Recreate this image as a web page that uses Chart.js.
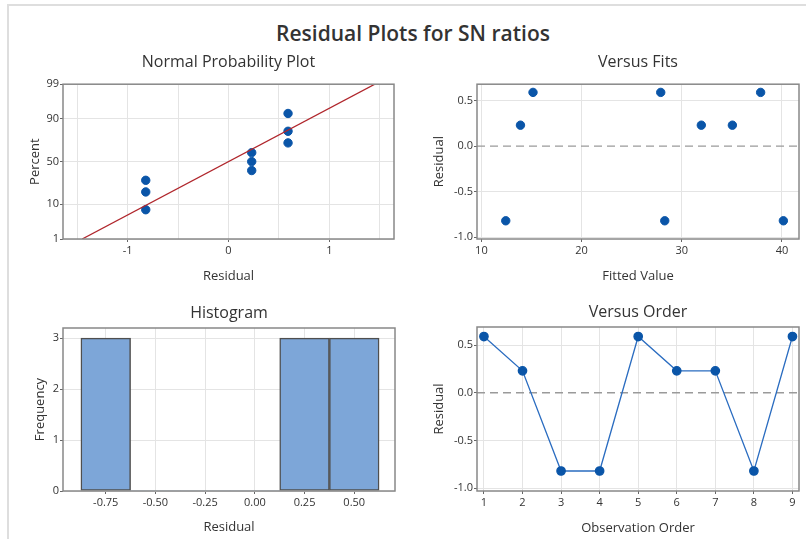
<!DOCTYPE html>
<html>
<head>
<meta charset="utf-8">
<script src="https://cdn.jsdelivr.net/npm/chart.js@4"></script>
<style>
  body { margin: 0; background: #fff; width: 806px; height: 539px; overflow: hidden; position: relative; font-family: "Open Sans", sans-serif; }
  canvas { position: absolute; }
  #frame-top { position: absolute; left: 8px; top: 4px; width: 798px; height: 2px; background: #dedede; }
  #frame-left { position: absolute; left: 7px; top: 4px; width: 2px; height: 535px; background: #dedede; }
  #main-title { position: absolute; left: 0; width: 826px; top: 19px; text-align: center; font-size: 21px; font-weight: 600; color: #333; }
</style>
</head>
<body>
<div id="frame-top"></div>
<div id="frame-left"></div>
<div id="main-title">Residual Plots for SN ratios</div>
<canvas id="npp" width="400" height="250" style="left:0px;top:40px"></canvas>
<canvas id="fits" width="406" height="250" style="left:400px;top:40px"></canvas>
<canvas id="hist" width="400" height="249" style="left:0px;top:290px"></canvas>
<canvas id="order" width="406" height="249" style="left:400px;top:290px"></canvas>
<script>
// residuals
const NPP_RESIDUALS = [-0.82, -0.82, -0.82, 0.23, 0.23, 0.23, 0.59, 0.59, 0.59];
const NPP_PERCENTS = [7.4, 18.1, 28.7, 39.4, 50, 60.6, 71.3, 81.9, 92.6];
const FIT_LINE_X = [-1.45, 1.45];
const FIT_LINE_PCT = [1, 99];
const PCT_TICKS = [1, 10, 50, 90, 99];

const FITTED = [12.43, 13.9, 15.15, 27.9, 28.3, 31.95, 35.05, 37.87, 40.14];
const FIT_RESIDUALS = [-0.82, 0.23, 0.59, 0.59, -0.82, 0.23, 0.23, 0.59, -0.82];

const BIN_CENTERS = [-0.75, -0.5, -0.25, 0, 0.25, 0.5];
const BIN_COUNTS = [3, 0, 0, 0, 3, 3];

const ORDER = [1, 2, 3, 4, 5, 6, 7, 8, 9];
const ORDER_RESIDUALS = [0.59, 0.23, -0.82, -0.82, 0.59, 0.23, 0.23, -0.82, 0.59];

const REF_LINE = 0;

const FONT = "'Open Sans', sans-serif";
const TEXT = "#333";
const GRID = "#e4e4e4";
const DOT = "#0a55a8";

// inverse normal cdf (Acklam) so the percent axis is a probability scale
function normInv(p) {
    const a = [-3.969683028665376e+01, 2.209460984245205e+02, -2.759285104469687e+02, 1.383577518672690e+02, -3.066479806614716e+01, 2.506628277459239e+00];
    const b = [-5.447609879822406e+01, 1.615858368580409e+02, -1.556989798598866e+02, 6.680131188771972e+01, -1.328068155288572e+01];
    const c = [-7.784894002430293e-03, -3.223964580411365e-01, -2.400758277161838e+00, -2.549732539343734e+00, 4.374664141464968e+00, 2.938163982698783e+00];
    const d = [7.784695709041462e-03, 3.224671290700398e-01, 2.445134137142996e+00, 3.754408661907416e+00];
    const pl = 0.02425;
    let q, r;
    if (p < pl) {
        q = Math.sqrt(-2 * Math.log(p));
        return (((((c[0]*q+c[1])*q+c[2])*q+c[3])*q+c[4])*q+c[5]) / ((((d[0]*q+d[1])*q+d[2])*q+d[3])*q+1);
    }
    if (p > 1 - pl) {
        q = Math.sqrt(-2 * Math.log(1 - p));
        return -(((((c[0]*q+c[1])*q+c[2])*q+c[3])*q+c[4])*q+c[5]) / ((((d[0]*q+d[1])*q+d[2])*q+d[3])*q+1);
    }
    q = p - 0.5;
    r = q * q;
    return (((((a[0]*r+a[1])*r+a[2])*r+a[3])*r+a[4])*r+a[5])*q / (((((b[0]*r+b[1])*r+b[2])*r+b[3])*r+b[4])*r+1);
}

// frame around the plot area + optional dashed reference line
const framePlugin = {
    id: "frame",
    beforeDatasetsDraw(chart, args, opts) {
        if (opts.refLine === undefined) return;
        const { ctx, chartArea } = chart;
        const y = chart.scales.y.getPixelForValue(opts.refLine);
        ctx.save();
        ctx.strokeStyle = "#9a9a9a";
        ctx.lineWidth = 1.4;
        ctx.setLineDash([8, 5]);
        ctx.beginPath();
        ctx.moveTo(chartArea.left, y);
        ctx.lineTo(chartArea.right, y);
        ctx.stroke();
        ctx.restore();
    },
    afterDraw(chart) {
        const { ctx, chartArea } = chart;
        ctx.save();
        ctx.strokeStyle = "#888";
        ctx.lineWidth = 1.5;
        ctx.strokeRect(chartArea.left, chartArea.top, chartArea.right - chartArea.left, chartArea.bottom - chartArea.top);
        ctx.restore();
    }
};

function axisTitle(text, pad) {
    return { display: true, text: text, color: TEXT, font: { family: FONT, size: 13 }, padding: pad };
}

function baseOptions(title, titlePad, padRight) {
    return {
        responsive: false,
        animation: false,
        devicePixelRatio: 1,
        layout: { padding: { left: 0, right: padRight, top: 0, bottom: 0 } },
        plugins: {
            legend: { display: false },
            tooltip: { enabled: false },
            title: { display: true, fullSize: false, text: title, color: TEXT,
                     font: { family: FONT, size: 16, weight: "normal", lineHeight: 1.2 }, padding: titlePad }
        }
    };
}

function tickFont() {
    return { family: FONT, size: 11 };
}

// Normal probability plot
const nppOpts = baseOptions("Normal Probability Plot", { top: 13, bottom: 12 }, 6);
nppOpts.scales = {
    x: {
        type: "linear", min: -1.64, max: 1.64,
        afterFit: (s) => { s.height = 51; },
        border: { display: false },
        grid: { color: GRID, tickLength: 3, tickColor: (c) => Number.isInteger(c.tick.value) ? "#666" : "transparent" },
        ticks: { stepSize: 0.5, includeBounds: false, padding: 2, color: TEXT, font: tickFont(), maxRotation: 0,
                 callback: (v) => Number.isInteger(v) ? String(v) : "" },
        title: axisTitle("Residual", { top: 0, bottom: 6 })
    },
    y: {
        type: "linear", min: normInv(0.01), max: normInv(0.99),
        afterFit: (s) => { s.width = 63; },
        afterBuildTicks: (s) => { s.ticks = PCT_TICKS.map((p) => ({ value: normInv(p / 100) })); },
        border: { display: false },
        grid: { color: GRID, tickLength: 3, tickColor: "#666" },
        ticks: { padding: 1, color: TEXT, font: tickFont(), callback: (v, i) => String(PCT_TICKS[i]) },
        title: axisTitle("Percent", { top: 27, bottom: 0 })
    }
};
new Chart(document.getElementById("npp"), {
    type: "scatter",
    data: {
        datasets: [
            {
                type: "line",
                data: FIT_LINE_X.map((x, i) => ({ x: x, y: normInv(FIT_LINE_PCT[i] / 100) })),
                borderColor: "#b0262c", borderWidth: 1.3, pointRadius: 0, fill: false
            },
            {
                data: NPP_RESIDUALS.map((x, i) => ({ x: x, y: normInv(NPP_PERCENTS[i] / 100) })),
                backgroundColor: DOT, borderColor: DOT, pointRadius: 4.2
            }
        ]
    },
    options: nppOpts,
    plugins: [framePlugin]
});

// Versus fits
const fitsOpts = baseOptions("Versus Fits", { top: 13, bottom: 12 }, 7);
fitsOpts.plugins.frame = { refLine: REF_LINE };
fitsOpts.scales = {
    x: {
        type: "linear", min: 9.56, max: 41.7,
        afterFit: (s) => { s.height = 51; },
        border: { display: false },
        grid: { color: GRID, tickLength: 3, tickColor: "#666" },
        ticks: { stepSize: 10, includeBounds: false, padding: 2, color: TEXT, font: tickFont(), maxRotation: 0 },
        title: axisTitle("Fitted Value", { top: 0, bottom: 6 })
    },
    y: {
        type: "linear", min: -1.02, max: 0.68,
        afterFit: (s) => { s.width = 77; },
        border: { display: false },
        grid: { color: (c) => c.tick.value === 0 ? "transparent" : GRID, tickLength: 3, tickColor: "#666" },
        ticks: { stepSize: 0.5, includeBounds: false, padding: 1, color: TEXT, font: tickFont(), callback: (v) => v.toFixed(1) },
        title: axisTitle("Residual", { top: 31, bottom: 0 })
    }
};
new Chart(document.getElementById("fits"), {
    type: "scatter",
    data: {
        datasets: [{
            data: FITTED.map((x, i) => ({ x: x, y: FIT_RESIDUALS[i] })),
            backgroundColor: DOT, borderColor: DOT, pointRadius: 4.2
        }]
    },
    options: fitsOpts,
    plugins: [framePlugin]
});

// Histogram
const histOpts = baseOptions("Histogram", { top: 13.5, bottom: 5.3 }, 5);
histOpts.scales = {
    x: {
        type: "linear", min: -0.965, max: 0.705, offset: false,
        afterFit: (s) => { s.height = 48; },
        border: { display: false },
        grid: { color: GRID, tickLength: 3, tickColor: "#666", offset: false },
        ticks: { stepSize: 0.25, includeBounds: false, padding: 2, color: TEXT, font: tickFont(), maxRotation: 0, callback: (v) => v.toFixed(2) },
        title: axisTitle("Residual", { top: 0, bottom: 4 })
    },
    y: {
        type: "linear", min: 0, max: 3.2,
        afterFit: (s) => { s.width = 63; },
        border: { display: false },
        grid: { color: GRID, tickLength: 3, tickColor: "#666" },
        ticks: { stepSize: 1, includeBounds: false, padding: 1, color: TEXT, font: tickFont() },
        title: axisTitle("Frequency", { top: 32, bottom: 0 })
    }
};
new Chart(document.getElementById("hist"), {
    type: "bar",
    data: {
        datasets: [{
            data: BIN_CENTERS.map((x, i) => ({ x: x, y: BIN_COUNTS[i] })),
            backgroundColor: "#7da6d8",
            borderColor: "#4f4f4f",
            borderWidth: (c) => (c.raw && c.raw.y > 0) ? 1.5 : 0,
            borderSkipped: false,
            barPercentage: 1,
            categoryPercentage: 1
        }]
    },
    options: histOpts,
    plugins: [framePlugin]
});

// Versus order
const orderOpts = baseOptions("Versus Order", { top: 13, bottom: 4.8 }, 7);
orderOpts.plugins.frame = { refLine: REF_LINE };
orderOpts.scales = {
    x: {
        type: "linear", min: 0.82, max: 9.17,
        afterFit: (s) => { s.height = 48; },
        border: { display: false },
        grid: { color: GRID, tickLength: 3, tickColor: "#666" },
        ticks: { stepSize: 1, includeBounds: false, padding: 2, color: TEXT, font: tickFont(), maxRotation: 0 },
        title: axisTitle("Observation Order", { top: 0, bottom: 3 })
    },
    y: {
        type: "linear", min: -1.03, max: 0.69,
        afterFit: (s) => { s.width = 77; },
        border: { display: false },
        grid: { color: (c) => c.tick.value === 0 ? "transparent" : GRID, tickLength: 3, tickColor: "#666" },
        ticks: { stepSize: 0.5, includeBounds: false, padding: 1, color: TEXT, font: tickFont(), callback: (v) => v.toFixed(1) },
        title: axisTitle("Residual", { top: 31, bottom: 0 })
    }
};
new Chart(document.getElementById("order"), {
    type: "line",
    data: {
        datasets: [{
            data: ORDER.map((x, i) => ({ x: x, y: ORDER_RESIDUALS[i] })),
            borderColor: "#2a6cc0", borderWidth: 1.3,
            backgroundColor: DOT, pointBorderColor: DOT, pointRadius: 4.2, tension: 0, fill: false
        }]
    },
    options: orderOpts,
    plugins: [framePlugin]
});
</script>
</body>
</html>
